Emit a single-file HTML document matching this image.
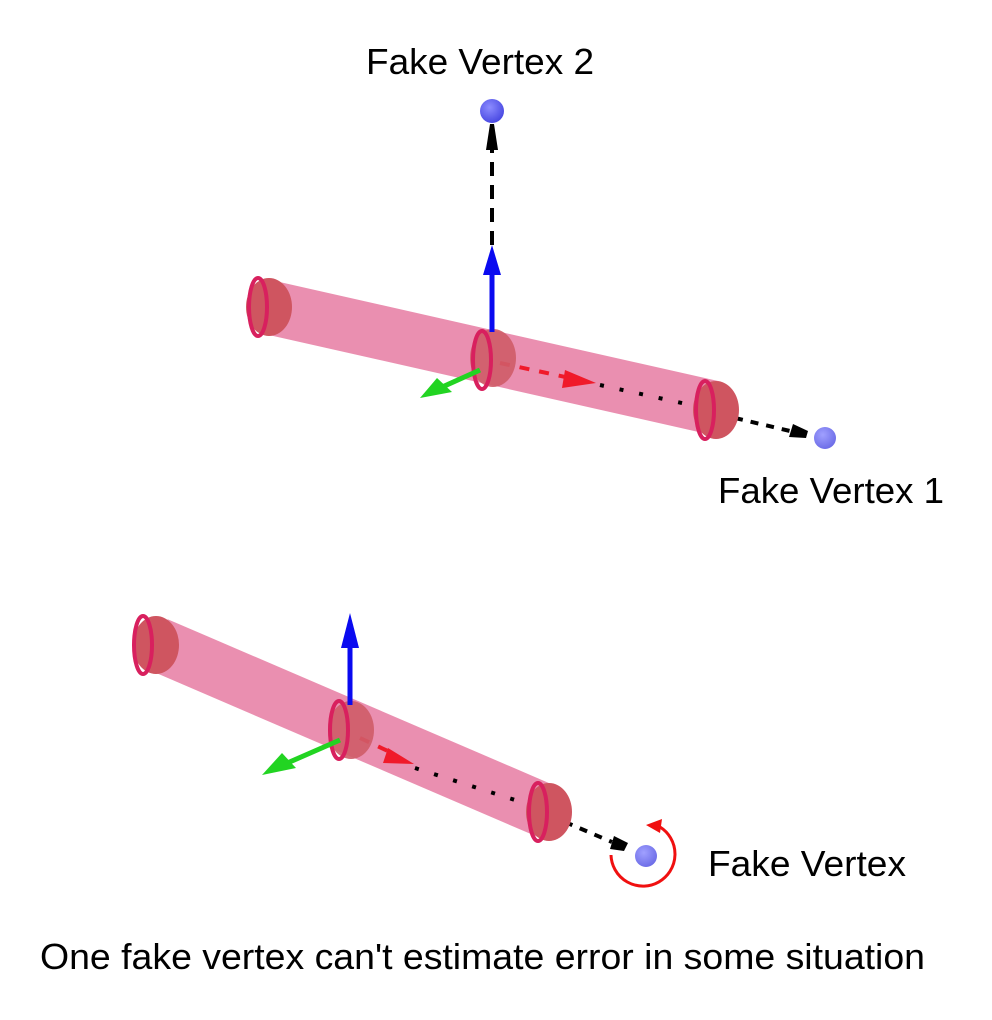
<!DOCTYPE html>
<html><head><style>html,body{margin:0;padding:0;background:#fff}svg{display:block}</style></head>
<body>
<svg width="992" height="1020" viewBox="0 0 992 1020" xmlns="http://www.w3.org/2000/svg" font-family="Liberation Sans, Arial, sans-serif">
<defs>
<radialGradient id="bv" cx="0.4" cy="0.35" r="0.7"><stop offset="0" stop-color="#8c8cff"/><stop offset="1" stop-color="#4545e0"/></radialGradient>
<radialGradient id="bv2" cx="0.4" cy="0.35" r="0.7"><stop offset="0" stop-color="#a0a0ff"/><stop offset="1" stop-color="#6a6ae6"/></radialGradient>
</defs>
<text x="366" y="74" font-size="36" textLength="228" lengthAdjust="spacingAndGlyphs" fill="#000">Fake Vertex 2</text>
<text x="718" y="503" font-size="36" textLength="226" lengthAdjust="spacingAndGlyphs" fill="#000">Fake Vertex 1</text>
<text x="708" y="876" font-size="36" textLength="198" lengthAdjust="spacingAndGlyphs" fill="#000">Fake Vertex</text>
<text x="40" y="969" font-size="36" textLength="885" lengthAdjust="spacingAndGlyphs" fill="#000">One fake vertex can't estimate error in some situation</text>

<!-- TOP -->
<line x1="492" y1="245" x2="492" y2="150" stroke="#000" stroke-width="4" stroke-dasharray="14,9"/>
<polygon points="486,150 498,150 494,124 490,124" fill="#000"/>
<circle cx="492" cy="111" r="12" fill="url(#bv)"/>
<line x1="272" y1="308" x2="715" y2="408" stroke="#e98aac" stroke-width="54" stroke-linecap="butt" opacity="0.95"/>
<line x1="500" y1="363" x2="570" y2="378" stroke="#f01a2a" stroke-width="4" stroke-dasharray="10,10"/>
<polygon points="565,370 596,383 562,388" fill="#f01a2a"/>
<line x1="600" y1="385" x2="700" y2="407" stroke="#000" stroke-width="4" stroke-dasharray="4,16"/>
<line x1="735" y1="418" x2="790" y2="431" stroke="#000" stroke-width="4" stroke-dasharray="8,8"/>
<polygon points="793,424 808,431 806,438 789,437" fill="#000"/>
<circle cx="825" cy="438" r="11" fill="url(#bv2)"/>
<ellipse cx="269" cy="307" rx="23" ry="29" fill="#cf5560"/>
<ellipse cx="258" cy="307" rx="9" ry="29" fill="none" stroke="#d8205e" stroke-width="4"/>
<ellipse cx="493" cy="358" rx="23" ry="29" fill="#cf5c68" opacity="0.9"/>
<ellipse cx="482" cy="360" rx="9" ry="29" fill="none" stroke="#d8205e" stroke-width="4"/>
<ellipse cx="716" cy="410" rx="23" ry="29" fill="#cf5560"/>
<ellipse cx="705" cy="410" rx="9" ry="29" fill="none" stroke="#d8205e" stroke-width="4"/>
<line x1="492" y1="332" x2="492" y2="270" stroke="#0a0af0" stroke-width="5"/>
<polygon points="483,275 501,275 492,245" fill="#0a0af0"/>
<line x1="480" y1="370" x2="440" y2="388" stroke="#22d422" stroke-width="5"/>
<polygon points="437,378 452,392 420,398" fill="#22d422"/>

<!-- BOTTOM -->
<line x1="157" y1="644" x2="548" y2="812" stroke="#e98aac" stroke-width="54" opacity="0.95"/>
<line x1="360" y1="738" x2="390" y2="752" stroke="#f01a2a" stroke-width="4" stroke-dasharray="10,10"/>
<polygon points="388,748 414,764 383,763" fill="#f01a2a"/>
<line x1="415" y1="768" x2="540" y2="808" stroke="#000" stroke-width="4" stroke-dasharray="4,16"/>
<line x1="565" y1="822" x2="612" y2="842" stroke="#000" stroke-width="4" stroke-dasharray="8,8"/>
<polygon points="614,836 628,843 624,851 610,849" fill="#000"/>
<circle cx="646" cy="856" r="11" fill="url(#bv2)"/>
<ellipse cx="156" cy="645" rx="23" ry="29" fill="#cf5560"/>
<ellipse cx="143" cy="645" rx="9" ry="29" fill="none" stroke="#d8205e" stroke-width="4"/>
<ellipse cx="351" cy="730" rx="23" ry="29" fill="#cf5c68" opacity="0.9"/>
<ellipse cx="339" cy="730" rx="9" ry="29" fill="none" stroke="#d8205e" stroke-width="4"/>
<ellipse cx="549" cy="812" rx="23" ry="29" fill="#cf5560"/>
<ellipse cx="538" cy="812" rx="9" ry="29" fill="none" stroke="#d8205e" stroke-width="4"/>
<line x1="350" y1="705" x2="350" y2="645" stroke="#0a0af0" stroke-width="5"/>
<polygon points="341,648 359,648 350,613" fill="#0a0af0"/>
<line x1="340" y1="740" x2="285" y2="764" stroke="#22d422" stroke-width="5"/>
<polygon points="282,753 296,768 262,775" fill="#22d422"/>
<path d="M 611 855 A 32 32 0 1 0 660 827" fill="none" stroke="#f01010" stroke-width="3"/>
<polygon points="646,825 662,819 660,833" fill="#f01010"/>
</svg>
</body></html>
